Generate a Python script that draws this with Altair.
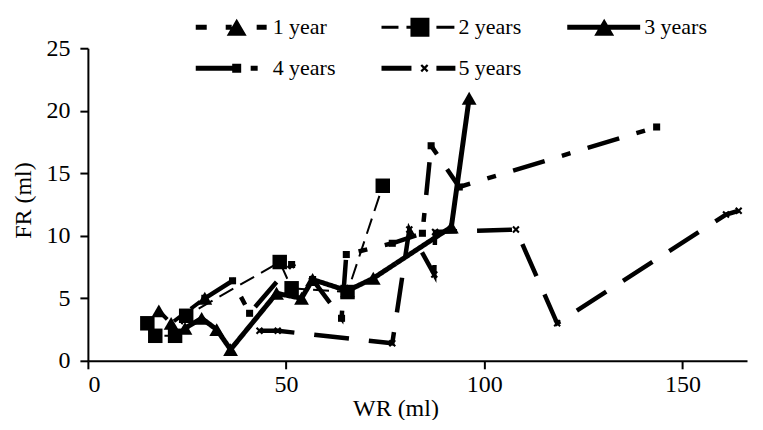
import altair as alt
import pandas as pd

series_names = ["1 year", "2 years", "3 years", "4 years", "5 years"]

wr_1y = [17.9, 21.0, 29.5]
fr_1y = [4.0, 3.0, 5.0]

wr_2y = [15.0, 17.0, 22.0, 24.8, 48.4, 51.4, 65.5, 74.4]
fr_2y = [3.0, 2.0, 2.0, 3.6, 7.9, 5.8, 5.5, 14.0]

wr_3y = [24.5, 28.7, 32.5, 36.0, 47.6, 53.9, 56.7, 65.5, 72.0, 91.7, 96.2]
fr_3y = [2.6, 3.4, 2.5, 0.9, 5.4, 5.0, 6.5, 5.6, 6.6, 10.7, 21.0]

wr_4y = [29.5, 36.5, 40.8, 51.4, 56.7, 64.0, 65.2, 76.8, 84.4, 86.6, 93.7, 143.5]
fr_4y = [5.0, 6.4, 3.8, 7.7, 6.5, 3.4, 8.5, 9.4, 10.2, 17.2, 13.9, 18.7]

wr_5y = [43.3, 47.9, 76.8, 81.1, 87.4, 87.6, 108.0, 118.4, 161.0, 164.2]
fr_5y = [2.4, 2.4, 1.4, 10.5, 6.9, 10.3, 10.5, 3.0, 11.7, 12.0]

all_wr = [wr_1y, wr_2y, wr_3y, wr_4y, wr_5y]
all_fr = [fr_1y, fr_2y, fr_3y, fr_4y, fr_5y]

rows = []
for name, xs, ys in zip(series_names, all_wr, all_fr):
    for i, (xv, yv) in enumerate(zip(xs, ys)):
        rows.append({"series": name, "wr": xv, "fr": yv, "idx": i})
df = pd.DataFrame(rows)

# ---- styles ----
FONT = "Liberation Serif"
dashes = [[12, 9], [16, 8], [1, 0], [33, 18, 9, 18], [35, 20]]
widths = [4, 2, 5, 4.5, 4.5]
XMARK = "M-1,-0.6L-0.6,-1L0,-0.4L0.6,-1L1,-0.6L0.4,0L1,0.6L0.6,1L0,0.4L-0.6,1L-1,0.6L-0.4,0Z"
shapes = ["triangle-up", "square", "triangle-up", "square", XMARK]
sizes = [220, 210, 220, 50, 55]

# legend symbol paths (unit = 7px, symbol centre 7px right of entry start)
U = 7.0
def fx(p):
    return round((p - 7) / U, 3)
def fy(p):
    return round(p / U, 3)
def rect(x0, x1, h):
    return f"M{fx(x0)},{fy(-h)}H{fx(x1)}V{fy(h)}H{fx(x0)}Z"
def tri(cx, w, h):
    return f"M{fx(cx)},{fy(-h/2)}L{fx(cx + w/2)},{fy(h/2)}L{fx(cx - w/2)},{fy(h/2)}Z"
def sq(cx, s):
    return f"M{fx(cx - s/2)},{fy(-s/2)}H{fx(cx + s/2)}V{fy(s/2)}H{fx(cx - s/2)}Z"
def xm(cx, r):
    pts = [(-1, -0.6), (-0.6, -1), (0, -0.4), (0.6, -1), (1, -0.6), (0.4, 0), (1, 0.6),
           (0.6, 1), (0, 0.4), (-0.6, 1), (-1, 0.6), (-0.4, 0)]
    s = "M" + "L".join(f"{fx(cx + a * r)},{fy(b * r)}" for a, b in pts) + "Z"
    return s

legend_paths = [
    rect(0, 11, 2.5) + rect(30, 36, 2.5) + tri(41, 20, 17) + rect(61, 71, 2.5),
    rect(0, 17, 1.5) + rect(25, 30, 1.5) + sq(38.5, 19) + rect(55, 73, 1.5),
    rect(0, 73, 2.5) + tri(37, 20, 17),
    rect(0, 37, 2.5) + sq(41, 9) + rect(55, 62, 2.5),
    rect(0, 30, 2.5) + xm(43, 4) + rect(55, 74, 2.5),
]

x_enc = alt.X("wr:Q", scale=alt.Scale(domain=[0, 166.3], nice=False, zero=True),
              axis=alt.Axis(values=[0, 50, 100, 150], title="WR (ml)", labelPadding=4,
                            titleX=308, titleY=48, titleBaseline="middle"))
y_enc = alt.Y("fr:Q", scale=alt.Scale(domain=[0, 25], nice=False),
              axis=alt.Axis(values=[0, 5, 10, 15, 20, 25], title="FR (ml)", labelPadding=10,
                            titleX=-64, titleY=152, titleBaseline="middle"))

base = alt.Chart(df)
layers = []
for i, name in enumerate(series_names):
    sub = base.transform_filter(alt.datum.series == name)
    layers.append(sub.mark_line(color="black", strokeWidth=widths[i], strokeDash=dashes[i],
                                clip=False).encode(x=x_enc, y=y_enc, order="idx:Q"))
for i, name in enumerate(series_names):
    sub = base.transform_filter(alt.datum.series == name)
    layers.append(sub.mark_point(shape=shapes[i], size=sizes[i], filled=True, color="black",
                                 opacity=1).encode(x=x_enc, y=y_enc))

legend_layer = base.transform_filter("datum.wr < -1000").mark_point(
    filled=True, color="black", opacity=1).encode(
    x=x_enc, y=y_enc,
    shape=alt.Shape("series:N", scale=alt.Scale(domain=series_names, range=legend_paths),
                    legend=alt.Legend(orient="none", legendX=104, legendY=-32, columns=3,
                                      direction="horizontal",
                                      title=None, labelFont=FONT, labelFontSize=22,
                                      labelColor="black", labelOffset=59, symbolSize=196,
                                      symbolStrokeWidth=0, symbolFillColor="black",
                                      rowPadding=19, columnPadding=42, gridAlign="each",
                                      padding=0, labelLimit=200)))
layers.append(legend_layer)

chart = alt.layer(*layers).properties(
    width=660, height=313,
    autosize=alt.AutoSizeParams(type="none"),
    padding={"left": 80, "top": 40, "right": 8, "bottom": 59},
).configure_view(stroke=None).configure_axis(
    domainColor="black", domainWidth=2, tickColor="black", tickWidth=2, tickSize=8,
    grid=False, labelFont=FONT, labelFontSize=24, labelColor="black",
    titleFont=FONT, titleFontSize=24, titleFontWeight="normal", titleColor="black",
)

chart.save("out.html", embed_options={"renderer": "svg", "actions": False})
